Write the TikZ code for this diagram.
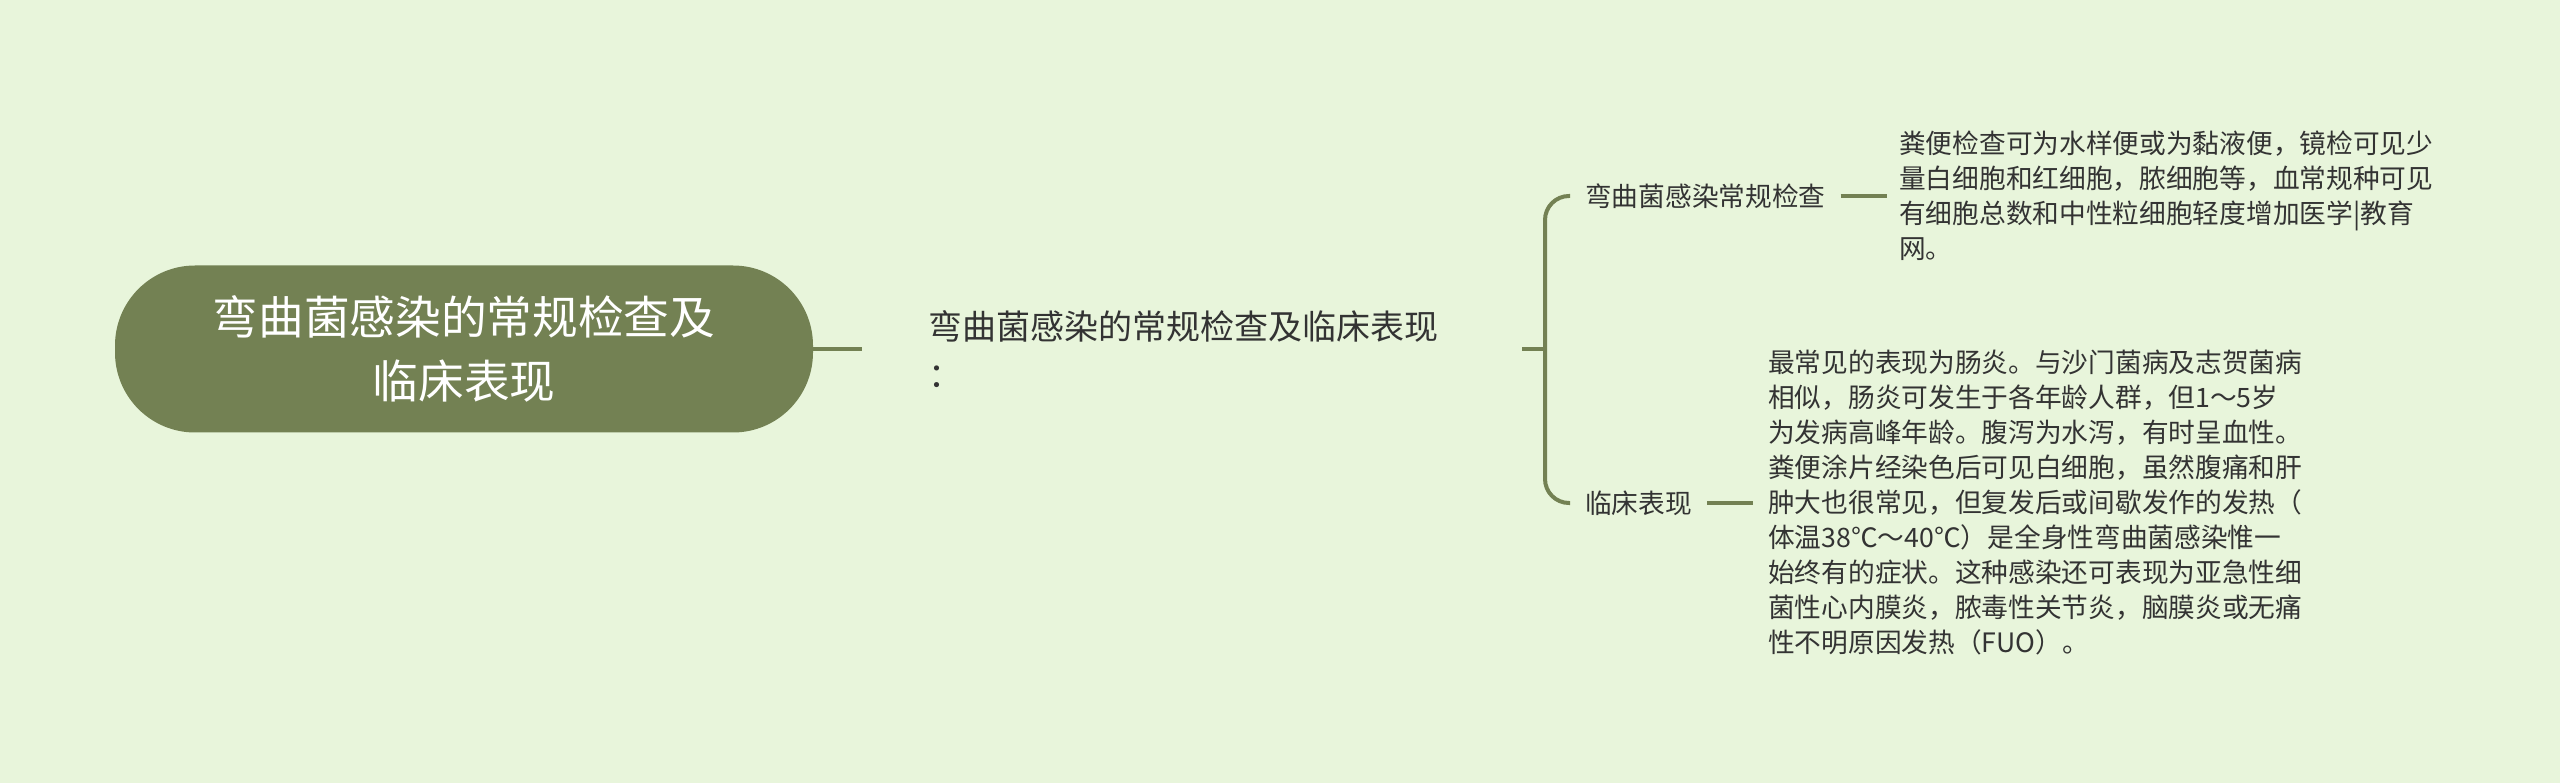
\documentclass[tikz,border=0pt]{standalone}
\usepackage{fontspec}
\setmainfont{Noto Sans CJK SC}
\definecolor{bg}{HTML}{E8F5DB}
\definecolor{moss}{HTML}{738153}
\definecolor{ink}{HTML}{333333}
\tikzset{
  link/.style={draw=moss, line width=4pt},
  topic/.style={anchor=west, inner xsep=15pt, inner ysep=0pt, text=ink, align=left,
    font=\fontsize{26.7}{35}\selectfont},
}
\begin{document}
\begin{tikzpicture}[x=1pt,y=-1pt]

\fill[bg] (0,0) rectangle (2560,783);
\useasboundingbox (0,0) rectangle (2560,783);

\node[fill=moss, rounded corners=80pt, minimum width=698pt, minimum height=167pt, text=white,
  align=center, font=\fontsize{45.7}{64}\selectfont] (root) at (464,349) {弯曲菌感染的常规检查及\\临床表现};
\node[anchor=west, inner sep=0pt, text=ink, align=left, font=\fontsize{34}{48}\selectfont]
  (sum) at (928,349) {弯曲菌感染的常规检查及临床表现\\：};
\coordinate (fork) at (1545,349);
\node[topic] (check) at (1570,196) {弯曲菌感染常规检查};
\node[topic] (clinic) at (1570,503) {临床表现};
\node[topic] (checktxt) at (1884,196) {粪便检查可为水样便或为黏液便，镜检可见少\\
量白细胞和红细胞，脓细胞等，血常规种可见\\
有细胞总数和中性粒细胞轻度增加医学|教育\\
网。};
\node[topic] (clinictxt) at (1753,503) {最常见的表现为肠炎。与沙门菌病及志贺菌病\\
相似，肠炎可发生于各年龄人群，但1～5岁\\
为发病高峰年龄。腹泻为水泻，有时呈血性。\\
粪便涂片经染色后可见白细胞，虽然腹痛和肝\\
肿大也很常见，但复发后或间歇发作的发热（\\
体温38℃～40℃）是全身性弯曲菌感染惟一\\
始终有的症状。这种感染还可表现为亚急性细\\
菌性心内膜炎，脓毒性关节炎，脑膜炎或无痛\\
性不明原因发热（FUO）。};

\draw[link, shorten >=66pt] (root.east) -- (sum.west);
\draw[link, shorten <=84pt] (sum.east) -- (fork);
\draw[link, rounded corners=24pt] (check.west) -| (fork) |- (clinic.west);
\draw[link, shorten >=-3pt] (check.east) -- (checktxt.west);
\draw[link] (clinic.east) -- (clinictxt.west);

\end{tikzpicture}
\end{document}
